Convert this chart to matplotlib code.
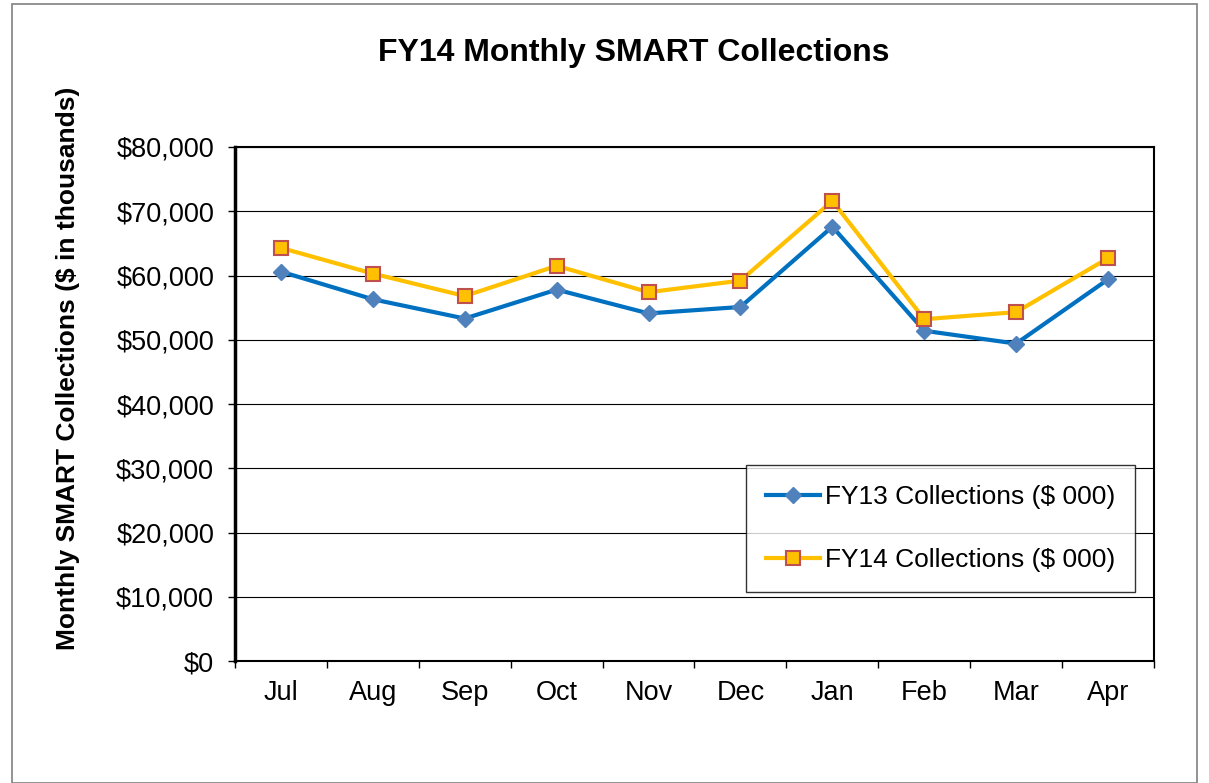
import matplotlib.pyplot as plt
from matplotlib.patches import Rectangle
from matplotlib.ticker import FuncFormatter, FixedLocator

# 数据（单位：千美元）
months = ['Jul', 'Aug', 'Sep', 'Oct', 'Nov', 'Dec', 'Jan', 'Feb', 'Mar', 'Apr']
fy13 = [60600, 56300, 53300, 57800, 54100, 55100, 67600, 51400, 49400, 59400]
fy14 = [64300, 60300, 56800, 61500, 57400, 59200, 71600, 53200, 54300, 62700]

plt.rcParams['font.family'] = ['Liberation Sans', 'DejaVu Sans']

fig = plt.figure(figsize=(12.09, 7.83), dpi=100)
ax = fig.add_axes([235 / 1209, 1 - 661 / 783, (1154 - 235) / 1209, (661 - 147) / 783])

# 图表外框
fig.patches.append(Rectangle((12 / 1209, 0), 1 - 24 / 1209, 1 - 4 / 783,
                             transform=fig.transFigure, fill=False,
                             edgecolor='#808080', linewidth=1.2))

x = list(range(len(months)))
ax.plot(x, fy13, color='#0070C0', linewidth=3.0, marker='D', markersize=8.5,
        markerfacecolor='#4F81BD', markeredgecolor='#4F81BD', label='FY13 Collections ($ 000)')
ax.plot(x, fy14, color='#FFC000', linewidth=3.0, marker='s', markersize=10.5,
        markerfacecolor='#FFC000', markeredgecolor='#C0504D', markeredgewidth=1.5,
        label='FY14 Collections ($ 000)')

ax.set_xlim(-0.5, len(months) - 0.5)
ax.set_ylim(0, 80000)
ax.set_yticks(range(0, 80001, 10000))
ax.yaxis.set_major_formatter(FuncFormatter(lambda v, p: f'${v:,.0f}'))
ax.grid(axis='y', color='black', linewidth=0.8)
ax.set_axisbelow(True)

ax.set_xticks(x)
ax.set_xticklabels(months)
ax.xaxis.set_minor_locator(FixedLocator([i - 0.5 for i in range(len(months) + 1)]))
ax.tick_params(axis='x', which='major', length=0, labelsize=19.5, pad=14)
ax.tick_params(axis='x', which='minor', length=5, direction='out', width=1)
ax.tick_params(axis='y', length=5, direction='out', width=1, labelsize=19.5, pad=10)

for s in ax.spines.values():
    s.set_linewidth(1.5)
    s.set_color('black')
ax.spines['left'].set_linewidth(2.5)

fig.text(68 / 1209, 1 - 368 / 783, 'Monthly SMART Collections ($ in thousands)',
         fontsize=19, fontweight='bold', rotation=90, ha='center', va='center')
fig.text(634 / 1209, 1 - 53 / 783, 'FY14 Monthly SMART Collections', fontsize=23,
         fontweight='bold', ha='center', va='center')

leg = ax.legend(loc='upper left', bbox_to_anchor=((746 - 235) / 919, (661 - 465) / 514),
                fontsize=19, frameon=True, fancybox=False, edgecolor='black',
                borderpad=0.75, labelspacing=1.5, handlelength=2.05, handletextpad=0.2,
                borderaxespad=0)
leg.get_frame().set_linewidth(1)

plt.savefig('out.png', dpi=100)
